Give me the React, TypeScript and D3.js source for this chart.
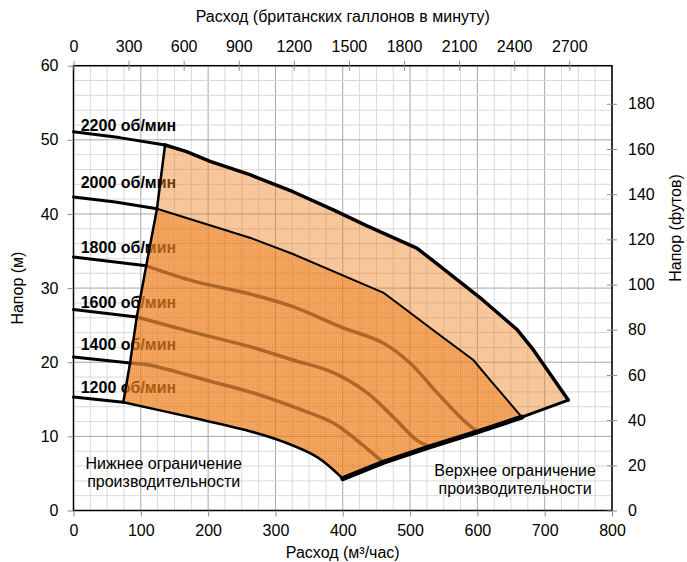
import React, { useEffect, useRef } from "react";
import * as d3 from "d3";

type Pt = [number, number];

// axes: flow in m³/h, head in m
const flowTicks = [0, 100, 200, 300, 400, 500, 600, 700, 800];
const headTicks = [0, 10, 20, 30, 40, 50, 60];
const gpmTicks = [0, 300, 600, 900, 1200, 1500, 1800, 2100, 2400, 2700];
const feetTicks = [0, 20, 40, 60, 80, 100, 120, 140, 160, 180];

const speedLabels = ["2200 об/мин", "2000 об/мин", "1800 об/мин", "1600 об/мин", "1400 об/мин", "1200 об/мин"];
const labelHead = [51.2, 43.5, 34.7, 27.3, 21.65, 15.85];

// parts of speed curves left of the lower flow limit
const rpm2200Outer: Pt[] = [[0, 51.1], [68, 50.3], [136, 49.3]];
const rpm2000Outer: Pt[] = [[0, 42.3], [62, 41.6], [124, 40.7]];
const rpm1800Outer: Pt[] = [[0, 34.2], [108, 33.0]];
const rpm1600Outer: Pt[] = [[0, 27.1], [94, 26.1]];
const rpm1400Outer: Pt[] = [[0, 20.7], [84, 19.9]];
const rpm1200Outer: Pt[] = [[0, 15.3], [74, 14.6]];

// parts inside the operating region
const rpm2200Inner: Pt[] = [
  [136, 49.3], [168, 48.4], [203, 47.1], [262, 45.3], [326, 43.0], [386, 40.55],
  [436, 38.4], [510, 35.4], [534, 33.7], [608, 28.4], [659, 24.4], [683, 21.7], [735, 14.9],
];
const rpm2000Inner: Pt[] = [
  [124, 40.7], [262, 36.8], [326, 34.6], [460, 29.4], [475, 28.4], [540, 23.95],
  [594, 20.3], [619, 17.6], [666, 12.6],
];
const rpm1800Inner: Pt[] = [
  [108, 33.0], [180, 30.9], [262, 29.2], [326, 27.5], [396, 24.8], [460, 22.6],
  [500, 19.9], [540, 15.9], [579, 12.2], [600, 10.6],
];
const rpm1600Inner: Pt[] = [
  [94, 26.1], [180, 24.0], [262, 22.1], [326, 20.3], [386, 18.6], [436, 15.9],
  [475, 12.6], [510, 9.5], [530, 8.6],
];
const rpm1400Inner: Pt[] = [
  [84, 19.9], [114, 19.6], [200, 17.5], [262, 16.0], [326, 14.0], [386, 11.8],
  [426, 9.1], [460, 6.5],
];
const rpm1200Inner: Pt[] = [[74, 14.6], [173, 12.6], [262, 10.7], [311, 9.3], [362, 7.2], [400, 4.3]];

// flow limits
const lowerLimit: Pt[] = [[136, 49.3], [124, 40.7], [108, 33.0], [94, 26.1], [84, 19.9], [74, 14.6]];
const upperLimit: Pt[] = [[400, 4.3], [460, 6.5], [530, 8.6], [600, 10.6], [666, 12.6], [735, 14.9]];

const notes = [
  { lines: ["Нижнее ограничение", "производительности"], flow: 134, head: 5.6 },
  { lines: ["Верхнее ограничение", "производительности"], flow: 656, head: 4.7 },
];

const FONT = "'Liberation Sans', Arial, sans-serif";
const W = 687;
const H = 562;

export default function App() {
  const svgRef = useRef<SVGSVGElement>(null);

  useEffect(() => {
    if (!svgRef.current) return;
    const svg = d3.select(svgRef.current);
    svg.selectAll("*").remove();

    const left = 73.5, right = 612, top = 65.7, bottom = 510.5;

    const x = d3.scaleLinear().domain([0, 800]).range([left, right]);
    const y = d3.scaleLinear().domain([0, 60]).range([bottom, top]);
    const xTop = d3.scaleLinear().domain([0, 800 * 3.66615]).range([left, right]);
    const yRight = d3.scaleLinear().domain([0, 60 * 3.28084]).range([bottom, top]);

    const defs = svg.append("defs");
    const pat = defs.append("pattern")
      .attr("id", "dots")
      .attr("width", 2)
      .attr("height", 2)
      .attr("patternUnits", "userSpaceOnUse");
    pat.append("rect").attr("width", 1).attr("height", 1).attr("fill", "#d86400").attr("opacity", 0.28);

    // grid
    const grid = svg.append("g");
    const minorX = d3.range(0, 801, 25);
    const minorY = d3.range(0, 61, 2);
    grid.selectAll(".vx").data(minorX).enter().append("line")
      .attr("x1", (d) => x(d)).attr("x2", (d) => x(d))
      .attr("y1", top).attr("y2", bottom)
      .attr("stroke", (d) => (d % 100 === 0 ? "#a6a6a6" : "#d9d9d9"))
      .attr("stroke-width", 1);
    grid.selectAll(".hy").data(minorY).enter().append("line")
      .attr("x1", left).attr("x2", right)
      .attr("y1", (d) => y(d)).attr("y2", (d) => y(d))
      .attr("stroke", (d) => (d % 10 === 0 ? "#a6a6a6" : "#d9d9d9"))
      .attr("stroke-width", 1);

    // speed labels (under the translucent fill)
    svg.append("g").selectAll("text").data(speedLabels).enter().append("text")
      .attr("x", x(10.7))
      .attr("y", (_, i) => y(labelHead[i]))
      .attr("font-family", FONT)
      .attr("font-size", "16px")
      .attr("font-weight", "bold")
      .attr("fill", "#000")
      .text((d) => d);

    const line = d3.line<Pt>().x((d) => x(d[0])).y((d) => y(d[1]));
    const smooth = d3.line<Pt>().x((d) => x(d[0])).y((d) => y(d[1])).curve(d3.curveCatmullRom.alpha(0.5));

    const rev = (a: Pt[]) => a.slice().reverse();
    const join = (...parts: string[]) =>
      parts.map((p, i) => (i === 0 ? p : p.replace(/^M/, "L"))).join("") + "Z";

    const bottomEdge = rev(rpm1200Inner);
    const outerPath = join(
      line(rpm2200Inner)!,
      line(rev(upperLimit))!,
      smooth(bottomEdge)!,
      line(rev(lowerLimit))!,
    );
    const innerPath = join(
      line(rpm2000Inner)!,
      line(rev(upperLimit.filter((p) => p[0] <= 666)))!,
      smooth(bottomEdge)!,
      line(rev(lowerLimit.filter((p) => p[1] <= 40.7)))!,
    );

    svg.append("path").attr("d", outerPath).attr("fill", "#ee8020").attr("fill-opacity", 0.45);
    svg.append("path").attr("d", innerPath).attr("fill", "#ee8020").attr("fill-opacity", 0.45);
    svg.append("path").attr("d", innerPath).attr("fill", "url(#dots)");

    // inner speed curves
    [rpm1800Inner, rpm1600Inner, rpm1400Inner].forEach((c) => {
      svg.append("path").attr("d", smooth(c))
        .attr("fill", "none")
        .attr("stroke", "#9a5318")
        .attr("stroke-opacity", 0.75)
        .attr("stroke-width", 3.5)
        .attr("stroke-linecap", "round");
    });

    const black = (d: string | null, w: number) =>
      svg.append("path").attr("d", d)
        .attr("fill", "none")
        .attr("stroke", "#000")
        .attr("stroke-width", w)
        .attr("stroke-linejoin", "round")
        .attr("stroke-linecap", "round");

    [rpm2200Outer, rpm2000Outer, rpm1800Outer, rpm1600Outer, rpm1400Outer, rpm1200Outer].forEach((c) => black(line(c), 3));
    black(line(rpm2200Inner), 3.5);
    black(line(rpm2000Inner), 2);
    black(smooth(rpm1200Inner), 2.5);
    black(line(lowerLimit), 2.5);
    black(line(upperLimit.filter((p) => p[0] <= 666)), 5);
    black(line(upperLimit.filter((p) => p[0] >= 666)), 3);

    // notes
    notes.forEach((n) => {
      const t = svg.append("text")
        .attr("x", x(n.flow))
        .attr("y", y(n.head))
        .attr("text-anchor", "middle")
        .attr("font-family", FONT)
        .attr("font-size", "16px")
        .attr("fill", "#000");
      n.lines.forEach((l, i) => {
        t.append("tspan").attr("x", x(n.flow)).attr("dy", i === 0 ? 0 : 18.5).text(l);
      });
    });

    // frame
    svg.append("rect")
      .attr("x", left).attr("y", top)
      .attr("width", right - left).attr("height", bottom - top)
      .attr("fill", "none").attr("stroke", "#000").attr("stroke-width", 1.5);

    const styleAxis = (g: d3.Selection<SVGGElement, unknown, null, undefined>) => {
      g.select(".domain").remove();
      g.selectAll(".tick line").attr("stroke", "#8c8c8c");
      g.selectAll(".tick text")
        .attr("font-family", FONT)
        .attr("font-size", "16px")
        .attr("fill", "#000");
    };

    const fmt = d3.format("d");

    svg.append("g")
      .attr("transform", `translate(0, ${bottom})`)
      .call(d3.axisBottom(x).tickValues(flowTicks).tickFormat(fmt).tickSize(6).tickPadding(8))
      .call(styleAxis);

    svg.append("g")
      .attr("transform", `translate(${left}, 0)`)
      .call(d3.axisLeft(y).tickValues(headTicks).tickFormat(fmt).tickSize(6).tickPadding(9))
      .call(styleAxis);

    const topAxis = svg.append("g")
      .attr("transform", `translate(0, ${top})`)
      .call(d3.axisTop(xTop).tickValues(gpmTicks).tickFormat(fmt).tickSize(5).tickPadding(9))
      .call(styleAxis);
    topAxis.selectAll(".tick line").attr("y1", 5);

    const rightAxis = svg.append("g")
      .attr("transform", `translate(${right}, 0)`)
      .call(d3.axisRight(yRight).tickValues(feetTicks).tickFormat(fmt).tickSize(5).tickPadding(11))
      .call(styleAxis);
    rightAxis.selectAll(".tick line").attr("x1", -5);

    // titles
    const title = (tx: number, ty: number, text: string, rot = false) =>
      svg.append("text")
        .attr("transform", `translate(${tx}, ${ty})${rot ? " rotate(-90)" : ""}`)
        .attr("text-anchor", "middle")
        .attr("font-family", FONT)
        .attr("font-size", "16px")
        .attr("fill", "#000")
        .text(text);

    title((left + right) / 2, 558, "Расход (м³/час)");
    title((left + right) / 2, 22, "Расход (британских галлонов в минуту)");
    title(23, (top + bottom) / 2, "Напор (м)", true);
    title(681, 228, "Напор (футов)", true);
  }, []);

  return (
    <svg
      ref={svgRef}
      width={W}
      height={H}
      style={{ position: "absolute", left: 0, top: 0, background: "#fff" }}
    />
  );
}
